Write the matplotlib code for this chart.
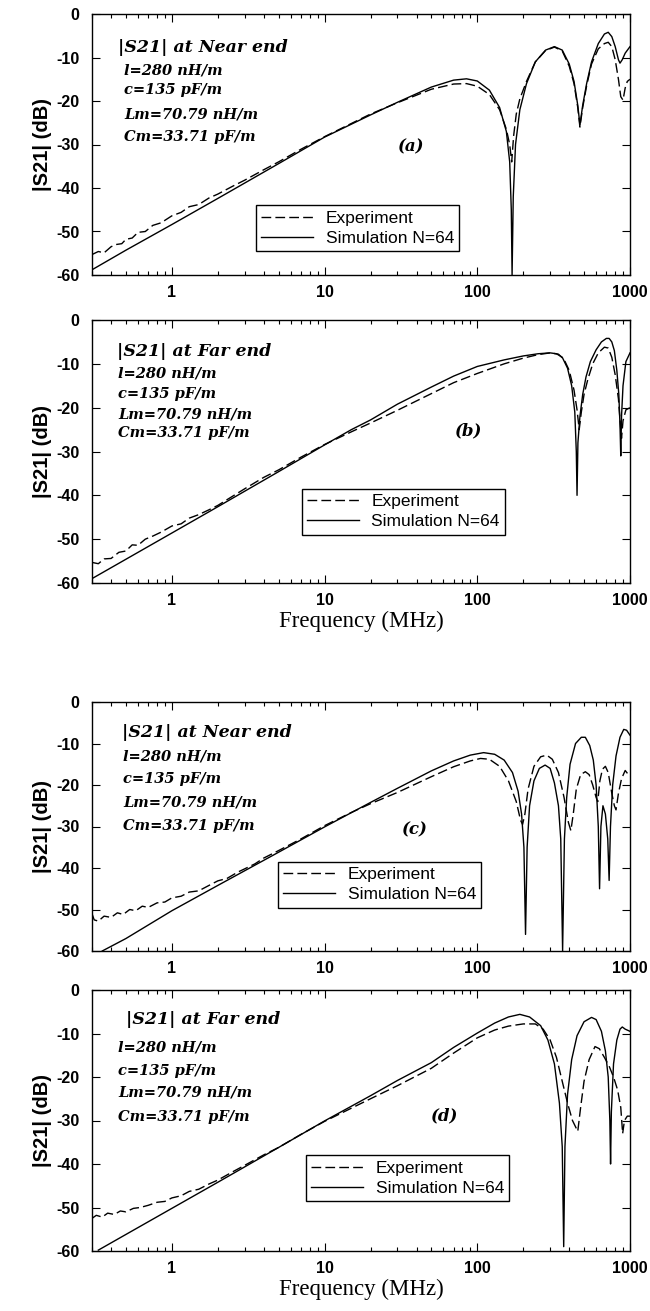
import numpy as np
import matplotlib
matplotlib.use("Agg")
import matplotlib.pyplot as plt
from matplotlib.ticker import FixedLocator, FixedFormatter, LogLocator, NullFormatter

plt.rcParams["axes.unicode_minus"] = False

# ---- data ----
# (a) near end, short line
sim_a_f = [0.3, 0.5, 1, 2, 5, 10, 20, 30, 50, 70, 85, 100, 120, 140, 155, 163, 167, 169, 172, 178,
           190, 210, 240, 280, 320, 360, 400, 430, 455, 470, 490, 520, 560, 620, 680, 720, 760,
           800, 840, 860, 890, 930, 1000]
sim_a = [-58.8, -54.3, -48.4, -42.4, -34.4, -28.3, -23.2, -20.3, -16.8, -15.2, -14.9, -15.4, -17.5,
         -21.5, -27, -34, -45, -60, -42, -30, -22, -16, -11, -8.3, -7.5, -8.3, -11.5, -15.5, -21,
         -25.5, -21, -16, -11, -6.8, -4.6, -4.2, -5.2, -7.5, -10.5, -11.3, -10.5, -9, -7.5]
exp_a_f = [0.3, 0.33, 0.36, 0.4, 0.43, 0.47, 0.5, 0.55, 0.6, 0.67, 0.75, 0.85, 1.0, 1.15, 1.3, 1.5,
           1.75, 2, 2.5, 3, 4, 5, 7, 10, 20, 30, 50, 70, 85, 100, 120, 140, 155, 163, 168, 173, 180,
           190, 210, 240, 280, 320, 360, 400, 430, 455, 470, 490, 520, 560, 620, 680, 720, 760, 800,
           840, 870, 900, 930, 960, 1000]
exp_a = [-55.3, -54.6, -54.9, -53.5, -53.0, -52.8, -51.8, -51.5, -50.2, -50.0, -48.6, -48.0, -46.4,
         -45.6, -44.3, -43.8, -42.3, -41.4, -39.6, -38.2, -35.8, -34.0, -31.1, -28.2, -23.0, -20.4,
         -17.3, -16.1, -16.0, -16.6, -18.5, -22, -26.5, -30, -34, -28, -23, -19.5, -15.5, -11,
         -8.4, -7.6, -8.5, -12, -16, -21.5, -26, -21.5, -16.5, -11.5, -8, -6.8, -6.5, -7.5, -10.5,
         -15, -19, -19.8, -17, -15.5, -15]

# (b) far end, short line
sim_b_f = [0.3, 1, 2, 5, 10, 15, 20, 30, 50, 70, 100, 150, 200, 250, 300, 330, 360, 390, 415, 435,
           445, 450, 456, 470, 490, 515, 550, 600, 650, 700, 730, 760, 790, 820, 845, 860, 870, 880,
           900, 940, 1000]
sim_b = [-59, -48.6, -42.6, -34.6, -28.5, -25, -22.8, -19.2, -15.3, -12.8, -10.6, -9.1, -8.2, -7.7,
         -7.5, -7.7, -8.5, -11, -15, -21, -30, -40, -28, -22, -17, -13, -9.5, -6.8, -5, -4.2, -4.2,
         -5, -7, -11.5, -17, -24, -31, -22, -15, -9.5, -7.5]
exp_b_f = [0.3, 0.33, 0.36, 0.4, 0.45, 0.5, 0.55, 0.6, 0.67, 0.75, 0.85, 1, 1.15, 1.3, 1.5, 1.75, 2,
           2.5, 3, 4, 5, 7, 10, 15, 20, 30, 50, 70, 100, 150, 200, 250, 300, 340, 370, 400, 430,
           450, 465, 480, 500, 530, 570, 620, 680, 720, 760, 800, 840, 865, 880, 900, 940, 1000]
exp_b = [-55.3, -55.6, -54.5, -54.4, -53.0, -52.7, -51.3, -51.4, -50.0, -49.3, -48.4, -47.0, -46.5,
         -45.2, -44.4, -43.3, -42.3, -40.2, -38.5, -35.9, -34.2, -31.3, -28.4, -25.5, -23.5, -20.6,
         -16.8, -14.3, -12.2, -10, -8.7, -7.9, -7.5, -7.8, -9, -11.5, -16, -20.5, -25, -21, -17,
         -13.5, -10, -7.5, -6.2, -6.4, -8.5, -12.5, -18, -24, -27, -23, -20.5, -20]

# (c) near end, long line
sim_c_f = [0.35, 0.5, 1, 2, 5, 10, 20, 30, 50, 70, 90, 110, 130, 150, 170, 185, 195, 202, 207, 212,
           220, 235, 255, 278, 300, 320, 340, 352, 362, 372, 385, 405, 440, 480, 510, 545, 575, 600,
           620, 632, 645, 665, 690, 715, 730, 745, 770, 810, 860, 910, 950, 1000]
sim_c = [-60, -57, -50.3, -44.2, -36.2, -30.1, -24.2, -20.8, -16.6, -14.2, -12.8, -12.2, -12.6, -14,
         -17, -21.5, -27, -35, -56, -35, -25, -19, -16, -15.2, -16, -19.5, -25, -33, -60, -33, -23,
         -15, -10, -8.5, -8.5, -10.5, -14, -20, -30, -45, -30, -25, -27, -33, -43, -30, -20, -13,
         -8.5, -6.6, -6.8, -8]
exp_c_f = [0.3, 0.31, 0.33, 0.36, 0.4, 0.44, 0.48, 0.53, 0.58, 0.64, 0.7, 0.8, 0.9, 1.0, 1.15, 1.3,
           1.5, 1.75, 2, 2.3, 2.7, 3, 3.5, 4, 5, 7, 10, 15, 20, 30, 50, 70, 90, 105, 120, 140, 160,
           180, 192, 198, 205, 215, 235, 260, 285, 310, 340, 370, 395, 410, 425, 445, 475, 510, 540,
           570, 600, 615, 635, 660, 690, 720, 760, 790, 810, 840, 880, 930, 1000]
exp_c = [-51.0, -52.5, -52.8, -51.6, -51.9, -50.8, -51.2, -50.0, -50.3, -49.2, -49.5, -48.4, -48.2,
         -47.2, -46.8, -45.8, -45.5, -44.2, -43.1, -42.5, -41.0, -40.2, -39.0, -37.6, -35.8, -33,
         -29.8, -26.6, -24.5, -21.8, -18, -15.6, -14.2, -13.6, -13.8, -15.5, -19, -24, -28.5, -29.5,
         -27, -21, -15.5, -13.2, -12.8, -13.8, -17, -23, -29, -31, -27, -21, -17.5, -16.8, -17.5,
         -20, -23, -24, -19, -16.2, -15.5, -17, -22, -25, -26, -22, -18.5, -16.5, -18]

# (d) far end, long line
sim_d_f = [0.33, 0.5, 1, 2, 5, 10, 20, 30, 50, 70, 100, 130, 160, 190, 220, 260, 290, 320, 345, 360,
           368, 375, 390, 415, 450, 500, 560, 600, 650, 690, 720, 738, 746, 755, 780, 820, 860, 890,
           930, 1000]
sim_d = [-59.8, -56.2, -50.2, -44.2, -36.2, -30.1, -24.3, -20.8, -16.7, -13.2, -9.9, -7.6, -6.2,
         -5.6, -6.2, -8.2, -11.5, -17, -26, -36, -59, -36, -24, -16, -10.5, -7.3, -6.3, -6.8, -9.5,
         -14, -20, -30, -40, -28, -17, -11.5, -9, -8.5, -9, -9.5]
exp_d_f = [0.3, 0.32, 0.35, 0.38, 0.42, 0.46, 0.5, 0.56, 0.62, 0.7, 0.8, 0.9, 1.0, 1.15, 1.3, 1.5,
           1.75, 2, 2.5, 3, 4, 5, 7, 10, 20, 30, 50, 70, 100, 130, 160, 200, 240, 270, 300, 330,
           360, 390, 420, 455, 475, 500, 540, 590, 630, 680, 730, 780, 830, 870, 895, 920, 960, 1000]
exp_d = [-52.5, -51.8, -52.2, -51.3, -51.6, -50.8, -51.0, -50.2, -50.0, -49.5, -48.8, -48.6, -47.8,
         -47.3, -46.3, -45.8, -44.6, -43.7, -41.8, -40.3, -37.9, -36.2, -33.2, -30.2, -25, -22, -18,
         -14.5, -11, -9.2, -8.3, -7.8, -7.8, -9, -11.5, -15.5, -21, -26, -30, -32.5, -27, -21, -16,
         -13, -13.5, -15.5, -17.5, -20, -23, -27, -33, -30, -29, -29]

panel_tags = ["(a)", "(b)", "(c)", "(d)"]
panel_titles = ["|S21| at Near end", "|S21| at Far end", "|S21| at Near end", "|S21| at Far end"]
param_lines = ["l=280 nH/m", "c=135 pF/m", "Lm=70.79 nH/m", "Cm=33.71 pF/m"]
xticks = [1, 10, 100, 1000]
xtick_labels = ["1", "10", "100", "1000"]
yticks = [0, -10, -20, -30, -40, -50, -60]

sims = [(sim_a_f, sim_a), (sim_b_f, sim_b), (sim_c_f, sim_c), (sim_d_f, sim_d)]
exps = [(exp_a_f, exp_a), (exp_b_f, exp_b), (exp_c_f, exp_c), (exp_d_f, exp_d)]

# layout (figure pixels, top / bottom of each frame)
frames = [(14, 275), (320, 583), (702, 951), (990, 1251)]
# text placement per panel, in (axes-x fraction, dB)
title_pos = [(0.049, -7.6), (0.046, -7.1), (0.056, -7.3), (0.064, -6.8)]
param_x = [0.06, 0.049, 0.058, 0.049]
param_y = [[-13.1, -17.4, -23.1, -28.2], [-12.3, -16.9, -21.5, -25.8],
           [-13.2, -18.6, -24.3, -29.8], [-13.3, -18.7, -23.6, -29.1]]
tag_pos = [(0.594, -30.5), (0.70, -25.3), (0.60, -30.8), (0.656, -29.0)]
legend_box = [(0.305, -44.0), (0.39, -38.5), (0.346, -38.5), (0.398, -38.0)]

W, H = 650, 1311
fig = plt.figure(figsize=(W / 100, H / 100), dpi=100)
sans = "Liberation Sans"
serif = "Liberation Serif"
note_font = "DejaVu Serif"

for i in range(4):
    top, bot = frames[i]
    ax = fig.add_axes([92 / W, 1 - bot / H, 538 / W, (bot - top) / H])
    ax.set_xscale("log")

    ef, ev = exps[i]
    sf, sv = sims[i]
    ax.plot(ef, ev, color="black", lw=1.0, ls=(0, (7, 3)), label="Experiment")
    ax.plot(sf, sv, color="black", lw=1.0, label="Simulation N=64")

    ax.set_xlim(0.3, 1000)
    ax.set_ylim(-60, 0)
    ax.xaxis.set_major_locator(FixedLocator(xticks))
    ax.xaxis.set_major_formatter(FixedFormatter(xtick_labels))
    ax.xaxis.set_minor_locator(LogLocator(base=10, subs=np.arange(2, 10)))
    ax.xaxis.set_minor_formatter(NullFormatter())
    ax.set_yticks(yticks)
    ax.tick_params(which="both", direction="in", top=True, right=True, width=0.8)
    ax.tick_params(which="major", length=6, labelsize=11.5)
    ax.tick_params(axis="y", which="major", pad=9)
    ax.tick_params(axis="x", which="major", pad=7)
    ax.tick_params(which="minor", length=3)
    for lab in ax.get_xticklabels() + ax.get_yticklabels():
        lab.set_family(sans)
        lab.set_weight("bold")
    for s in ax.spines.values():
        s.set_linewidth(1.0)

    ax.set_ylabel("|S21| (dB)", family=sans, weight="bold", fontsize=14.5, labelpad=3)
    if i in (1, 3):
        ax.set_xlabel("Frequency (MHz)", family=serif, fontsize=16.5, labelpad=2)

    tx, ty = title_pos[i]
    ax.text(tx, ty, panel_titles[i], transform=ax.get_yaxis_transform(), family=note_font,
            style="italic", weight="bold", fontsize=12.5, va="center")
    for txt, yy in zip(param_lines, param_y[i]):
        ax.text(param_x[i], yy, txt, transform=ax.get_yaxis_transform(), family=note_font,
                style="italic", weight="bold", fontsize=10.5, va="center")
    gx, gy = tag_pos[i]
    ax.text(gx, gy, panel_tags[i], transform=ax.get_yaxis_transform(), family=note_font,
            style="italic", weight="bold", fontsize=12, ha="center", va="center")

    lx, ly = legend_box[i]
    leg = ax.legend(loc="upper left", bbox_to_anchor=(lx, (ly + 60) / 60), frameon=True,
                    fancybox=False, edgecolor="black", framealpha=1, handlelength=3.0,
                    borderpad=0.3, labelspacing=0.3, handletextpad=0.7, borderaxespad=0,
                    prop={"family": sans, "size": 12.5})
    leg.get_frame().set_linewidth(1.0)

fig.savefig("out.png", dpi=100)
